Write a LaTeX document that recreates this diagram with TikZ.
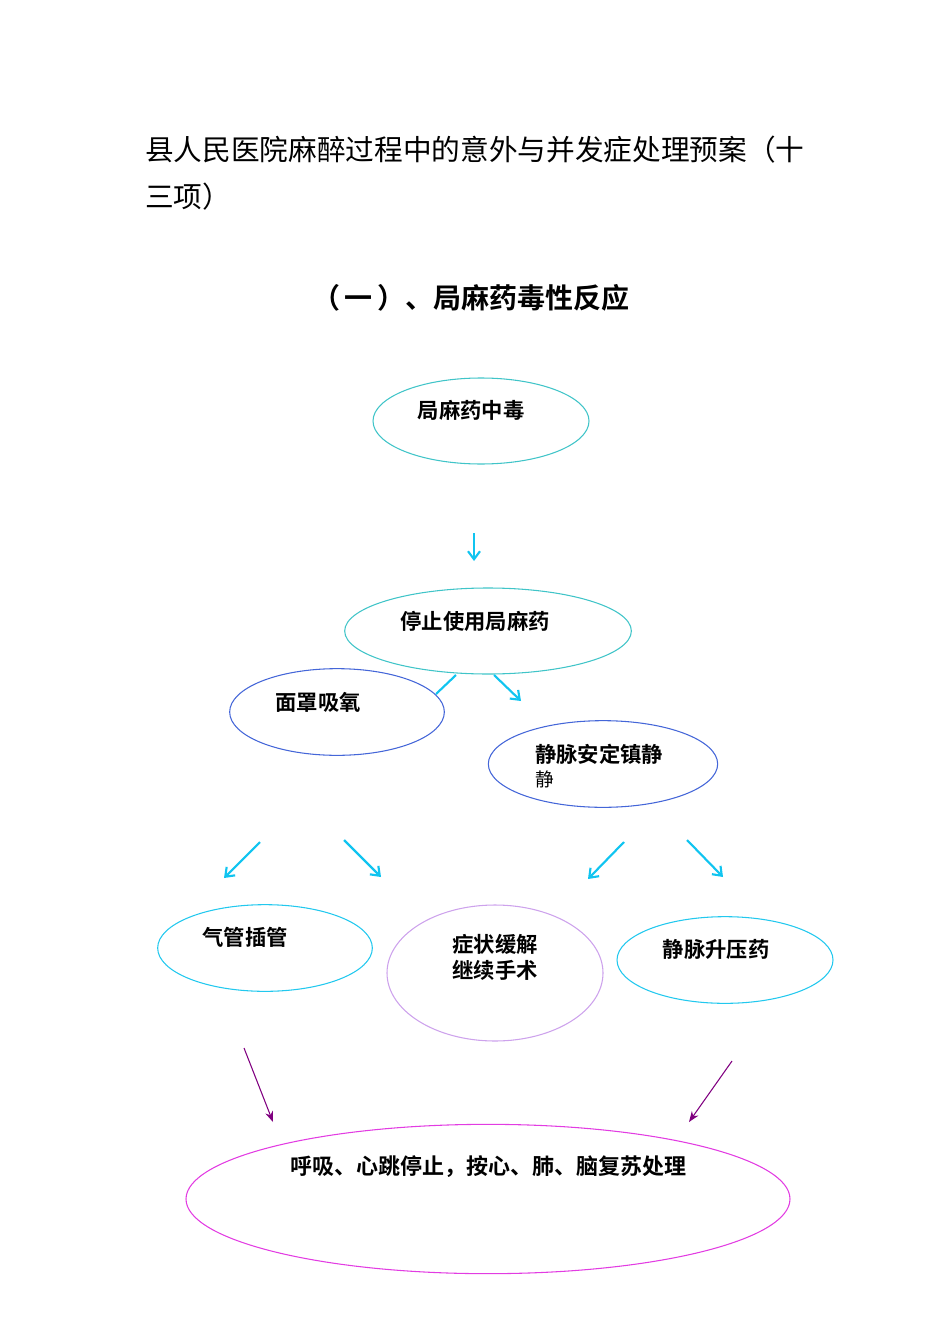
\documentclass[tikz,border=0pt]{standalone}
\usepackage{fontspec}
\setmainfont{Noto Sans CJK SC}[BoldFont={Noto Sans CJK SC Bold}]
\usetikzlibrary{shapes.geometric,arrows.meta}
\definecolor{teal1}{HTML}{40C4C8}
\definecolor{blue1}{HTML}{4466D8}
\definecolor{cyan1}{HTML}{22C8EE}
\definecolor{lilac}{HTML}{CDA2EC}
\definecolor{magenta1}{HTML}{E23CE2}
\definecolor{arrcyan}{HTML}{10C4F0}
\definecolor{arrpurple}{HTML}{800080}
\tikzset{
  oval/.style={ellipse, draw=#1, line width=0.8pt, inner sep=0pt},
  lbl/.style={font=\fontsize{16pt}{20pt}\selectfont\bfseries, inner sep=0pt},
  carrow/.style={draw=arrcyan, line width=1.6pt, -{Straight Barb[length=6pt,width=9pt]}},
  parrow/.style={draw=arrpurple, line width=0.8pt, -{Stealth[length=8pt,width=6pt]}},
}
\begin{document}
\begin{tikzpicture}[x=0.75pt,y=-0.75pt]
\useasboundingbox (0,0) rectangle (950,1344);
% title
\node[anchor=west, inner sep=0pt, font=\fontsize{21.5pt}{26pt}\selectfont] (t1) at (145,150) {县人民医院麻醉过程中的意外与并发症处理预案（十};
\node[anchor=west, inner sep=0pt, font=\fontsize{21.5pt}{26pt}\selectfont] (t2) at (145,197) {三项）};
\node[inner sep=0pt, anchor=west, font=\fontsize{21pt}{26pt}\selectfont\bfseries] (sub) at (312,298) {（\,一\,）、局麻药毒性反应};
% ellipses
\path (481,421) node[oval=teal1, minimum width=162pt, minimum height=64.5pt] (e1) {};
\path (488,631) node[oval=teal1, minimum width=215pt, minimum height=64.5pt] (e2) {};
\path (337,712) node[oval=blue1, minimum width=161pt, minimum height=65pt] (e3) {};
\path (603,764) node[oval=blue1, minimum width=172pt, minimum height=65pt] (e4) {};
\path (265,948) node[oval=cyan1, minimum width=161pt, minimum height=65pt] (e5) {};
\path (495,973) node[oval=lilac, minimum width=162pt, minimum height=102pt] (e6) {};
\path (725,960) node[oval=cyan1, minimum width=162pt, minimum height=65pt] (e7) {};
\path (488,1199) node[oval=magenta1, minimum width=453pt, minimum height=112pt] (e8) {};
% labels
\node[lbl] (l1) at (471,410) {局麻药中毒};
\node[lbl] (l2) at (475,621) {停止使用局麻药};
\node[lbl] (l3) at (318,702) {面罩吸氧};
\node[lbl, anchor=west] (l4) at (535,754) {静脉安定镇静};
\node[inner sep=0pt, anchor=west, font=\fontsize{14pt}{16pt}\selectfont] (l4b) at (535,779) {静};
\node[lbl] (l5) at (245,937) {气管插管};
\node[lbl, align=center, font=\fontsize{16pt}{19.5pt}\selectfont\bfseries] (l6) at (495,957) {症状缓解\\继续手术};
\node[lbl] (l7) at (716,949) {静脉升压药};
\node[lbl, font=\fontsize{16.5pt}{20pt}\selectfont\bfseries] (l8) at (488,1167) {呼吸、心跳停止，按心、肺、脑复苏处理};
% arrow coordinates
\coordinate (a0s) at (474,533); \coordinate (a0e) at (474,561);
\coordinate (a1s) at (456,675); \coordinate (a1e) at (436,694);
\coordinate (a2s) at (494,675); \coordinate (a2e) at (521,701);
\coordinate (b1s) at (260,842); \coordinate (b1e) at (224,878);
\coordinate (b2s) at (344,840); \coordinate (b2e) at (381,877);
\coordinate (b3s) at (624,842); \coordinate (b3e) at (588,879);
\coordinate (b4s) at (687,840); \coordinate (b4e) at (723,877);
\coordinate (c1s) at (244,1048); \coordinate (c1e) at (273,1122);
\coordinate (c2s) at (732,1061); \coordinate (c2e) at (689,1122);
\draw[carrow] (a0s) -- (a0e);
\draw[draw=arrcyan, line width=1.6pt] (a1s) -- (a1e);
\draw[carrow] (a2s) -- (a2e);
\draw[carrow] (b1s) -- (b1e);
\draw[carrow] (b2s) -- (b2e);
\draw[carrow] (b3s) -- (b3e);
\draw[carrow] (b4s) -- (b4e);
\draw[parrow] (c1s) -- (c1e);
\draw[parrow] (c2s) -- (c2e);
\end{tikzpicture}
\end{document}
